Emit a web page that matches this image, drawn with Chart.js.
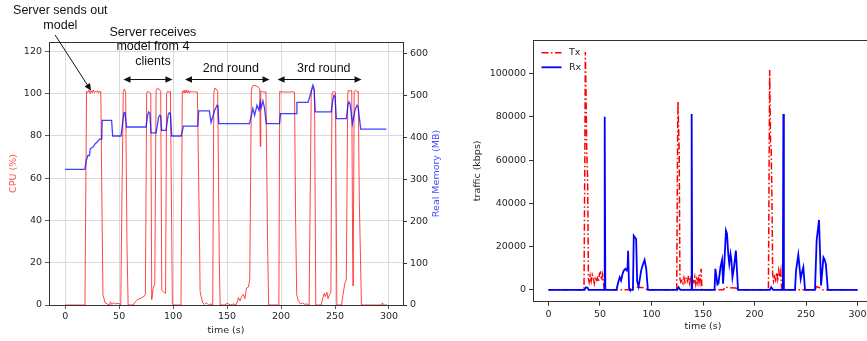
<!DOCTYPE html>
<html>
<head>
<meta charset="utf-8">
<script src="https://cdn.jsdelivr.net/npm/chart.js@4.4.1/dist/chart.umd.min.js"></script>
<style>
  html, body { margin: 0; padding: 0; background: #fff; overflow: hidden; }
  #cpuChart { position: absolute; left: 0; top: 0; }
  #netChart { position: absolute; left: 460px; top: 0; }
</style>
</head>
<body>
<canvas id="cpuChart" width="460" height="341"></canvas>
<canvas id="netChart" width="420" height="341"></canvas>
<script>
// tick labels
const timeTicks = [0, 50, 100, 150, 200, 250, 300];
const cpuTicks = [0, 20, 40, 60, 80, 100, 120];
const memTicks = [0, 100, 200, 300, 400, 500, 600];
const trafficTicks = [0, 20000, 40000, 60000, 80000, 100000];

// left panel: CPU (%)
const cpuTime = [0, 18.3, 19.8, 21, 22, 23, 24, 25, 26, 27, 28, 29, 30, 31, 32, 33, 34, 35, 36, 37, 39, 41, 42, 43, 45, 47, 49, 51.5,
  52.8, 53.8, 55, 56, 57.2, 58.3, 63, 65, 67, 69, 71, 73, 74.3, 75.5, 76.5, 78, 79.3, 80.2, 81.5, 83, 84.2, 85.5, 87, 88.5,
  89.5, 91.5, 93, 94, 95, 96.5, 97.5, 99.3, 100, 107.3, 108.5, 109.5, 110, 111, 112, 113, 114, 115, 116, 117, 118, 119, 120, 121, 122.5,
  124.5, 125, 126, 127.5, 129, 131, 133, 135, 136.7, 137.7, 138.7, 140, 141.3, 142.8, 143.6, 148, 150, 153, 156, 158, 159.5, 160.5,
  162, 163.5, 165, 166.5, 168, 169.8, 171, 172.5, 173.5, 175, 177, 179, 180.3, 180.7, 181.2, 182.5, 184, 186, 187.5, 188.5, 198,
  198.8, 200, 202, 204, 206, 208, 210, 212.5, 213.5, 214.5, 216, 218, 220, 222, 224, 226, 227.2, 228, 229.5, 231, 232.2, 237.3,
  238.5, 240, 241, 242.5, 243.5, 245, 246.2, 247.2, 248.5, 250.5, 251.7, 256, 257.5, 259, 260.5, 261.8, 262.5, 264, 265.5, 266.3,
  266.8, 267.3, 267.8, 269, 270.5, 271.5, 272.5, 274.5, 293, 294, 295, 298];
const cpuLoad = [0, 0, 101, 100.5, 101.5, 100, 101.2, 100.3, 101.6, 100.4, 101, 100.6, 101.3, 100.2, 101, 100.8, 50, 4.7, 3, 1, 0.5, 0, 1.5, 0.3, 1, 0.5, 0.8, 0.2,
  60, 101, 102, 100.5, 30, 0, 0, 1.5, 2.5, 3, 3.5, 4, 5, 100, 101, 100.5, 100, 2.5, 8, 10, 101, 102.5, 102, 101,
  7, 6, 5.5, 100, 101, 100.5, 101, 1, 0, 0, 101, 100.5, 101.5, 100.2, 101.7, 100.3, 101.4, 100.1, 101.2, 100.6, 101, 100.4, 100.9, 100.6, 100.6,
  30, 6.3, 4, 1, 0.3, 1, 0, 0.5, 0, 100, 102.5, 102, 101, 20, 0, 0, 0.8, 0, 0.5, 0, 1.5, 3.5,
  2, 4, 5, 3, 8, 8.5, 12, 101, 103.5, 103.8, 103.5, 103, 102, 75, 101, 101, 100.5, 100.8, 30, 0, 0,
  101, 100.6, 100.8, 100.6, 100.7, 100.6, 100.8, 100.6, 40, 5, 2, 0.5, 1, 0.3, 0.5, 0, 60, 101.5, 102.5, 101.5, 0, 0,
  3, 5.5, 4, 6, 3, 5, 6, 100, 101, 100.5, 0, 0, 5, 10, 12, 100, 101.5, 101, 101.5, 30,
  9, 9, 101, 101.5, 100.8, 101, 50, 0, 0, 1, 0, 0];

// left panel: real memory (MB)
const memTime = [0, 18.3, 19.5, 21, 22.5, 23.2, 25.7, 27.8, 29.7, 31.8, 33.8, 34.3, 43, 44, 51.7, 53.5, 54.6, 55.5, 56.8, 74.9,
  76.5, 77.4, 78.5, 79.5, 84.2, 86.5, 87.6, 88.5, 89.4, 93.4, 95.5, 96.5, 97.5, 98.7, 107.4, 109.6, 122.8, 123.7, 133.6, 135.2,
  138.5, 140.8, 141.5, 142.3, 170.8, 173.9, 175.5, 177.7, 179.5, 180.7, 181.5, 183.2, 184.7, 186.3, 198.6, 199.5, 214.1, 214.7,
  224.9, 227.5, 229.5, 230.5, 231.7, 246.6, 248, 249.1, 250, 251.2, 260.5, 262, 263, 264, 266.1, 268.5, 270.4, 271.5, 273.8, 297.6];
const memUsed = [323.7, 323.7, 345, 357, 357, 373, 377, 385, 389, 396, 396, 441, 441, 403.6, 403.6, 440, 459.6, 459, 425, 425,
  455, 461, 458, 411, 411, 448, 453, 451, 417, 417, 455, 459, 457, 403.6, 403.6, 427, 427, 463.6, 463.6, 435.7,
  465, 477, 475, 433, 433, 469, 453, 477, 465, 485, 470, 487.6, 470, 433, 433, 457, 457, 483.6,
  483.6, 505, 525, 518, 461, 461, 490, 501, 497, 445, 445, 478, 485, 480, 433, 465, 477, 472, 420, 420];

// right panel: traffic (kbps)
const txTime = [0, 34.5, 35.3, 35.8, 36.5, 37.2, 38, 38.8, 39.5, 40.5, 41.5, 42.5, 43.5, 44.5, 45.5, 46.5, 47.5, 48.5, 49.5, 50.5,
  51.5, 52.5, 53.5, 54.2, 79, 80, 88, 94, 95.5, 124.5, 125.2, 125.7, 126.3, 126.9, 127.6, 128.5, 129.5, 130.5, 131.5, 132.5,
  133.8, 135, 136, 137, 138, 139, 140, 141, 142, 143, 144, 145, 146, 147, 148.2, 149, 170, 171, 176, 182, 184, 213.5, 214.2,
  214.7, 215.3, 215.6, 216.2, 217, 217.6, 218.5, 219.5, 220.5, 221.5, 222.5, 223.5, 224.5, 225.5, 226.4, 259, 260, 263, 266, 300];
const txRate = [0, 0, 60000, 110000, 90000, 63000, 52000, 5000, 3500, 6500, 4000, 7000, 5500, 3000, 6000, 4500, 5500, 3500, 7500, 8100,
  4500, 7000, 3000, 0, 0, 1000, 1200, 800, 0, 0, 60000, 87000, 75000, 64000, 5000, 3500, 4300, 3000, 5500, 3500,
  5700, 4000, 6500, 3000, 5000, 2500, 4500, 3500, 6000, 2500, 5000, 3000, 7000, 3600, 9700, 0, 0, 1200, 1000, 800, 0, 0, 60000,
  101600, 80000, 67400, 65000, 40000, 7400, 4000, 6000, 4500, 8000, 5000, 9000, 6000, 8900, 0, 0, 1500, 1000, 0, 0];
const rxTime = [0, 35, 36.5, 38, 39, 54, 54.6, 55.2, 66, 67.5, 69.2, 70.5, 72, 73.1, 74.7, 76, 76.8, 77.3, 78.3, 79, 82, 82.8,
  84, 85.1, 86.1, 87.5, 90, 91.5, 93.3, 94.9, 96.5, 125, 126.2, 128, 138.5, 139, 139.5, 161.2, 162, 164, 165, 167, 168.5, 169.5,
  171, 172.3, 173.3, 174.5, 175.5, 176.7, 177.5, 178.6, 180, 181.9, 184, 215, 216.2, 218, 227.5, 228, 228.5, 239.3, 240.3,
  242.5, 244.8, 246, 247.4, 249, 258.7, 260.3, 262.6, 264.6, 266.9, 268, 269.2, 271.2, 300];
const rxRate = [0, 0, 1200, 1000, 0, 0, 80000, 0, 0, 3000, 5800, 4300, 7500, 8900, 9700, 9000, 10500, 18100, 500, 0, 0, 25000,
  24200, 23500, 4000, 1500, 9000, 11500, 13800, 9700, 0, 0, 1200, 0, 0, 81300, 0, 0, 9700, 2500, 3000, 10600, 13800, 2800,
  15000, 27400, 26000, 16600, 12000, 16600, 14000, 5800, 10000, 18100, 0, 0, 1200, 0, 0, 81300, 0, 0, 8900,
  16200, 5100, 8000, 10400, 0, 0, 22800, 32300, 2000, 15000, 14000, 12000, 0, 0];

const pts = (xs, ys) => xs.map((x, i) => ({ x: x, y: ys[i] }));
const fixTicks = list => scale => { scale.ticks = list.map(v => ({ value: v })); };
const tickFont = { family: 'DejaVu Sans', size: 9.5 };
const ink = '#262626';
const spine = '#333333';

Chart.defaults.font.family = 'DejaVu Sans';
Chart.defaults.color = ink;

function arrowHead(ctx, fx, fy, tx, ty) {
  const a = Math.atan2(ty - fy, tx - fx), len = 7, half = 3.2;
  ctx.beginPath();
  ctx.moveTo(tx, ty);
  ctx.lineTo(tx - len * Math.cos(a) + half * Math.sin(a), ty - len * Math.sin(a) - half * Math.cos(a));
  ctx.lineTo(tx - len * Math.cos(a) - half * Math.sin(a), ty - len * Math.sin(a) + half * Math.cos(a));
  ctx.closePath();
  ctx.fill();
}

// top spine, right axis label and the hand-made notes of the left panel
const cpuNotes = {
  id: 'cpuNotes',
  afterDraw(chart) {
    const { ctx, chartArea: area, scales: { x, y } } = chart;
    ctx.save();
    ctx.strokeStyle = spine;
    ctx.lineWidth = 1;
    ctx.beginPath();
    ctx.moveTo(area.left, Math.round(area.top) + 0.5);
    ctx.lineTo(area.right, Math.round(area.top) + 0.5);
    ctx.stroke();

    ctx.save();
    ctx.translate(area.right + 34, (area.top + area.bottom) / 2);
    ctx.rotate(-Math.PI / 2);
    ctx.fillStyle = 'rgba(40,40,255,0.85)';
    ctx.font = '9.5px "DejaVu Sans"';
    ctx.textAlign = 'center';
    ctx.textBaseline = 'middle';
    ctx.fillText('Real Memory (MB)', 0, 0);
    ctx.restore();

    ctx.fillStyle = '#111';
    ctx.strokeStyle = '#111';
    ctx.font = '12.5px "Liberation Sans"';
    ctx.textAlign = 'center';
    ctx.textBaseline = 'middle';
    const label = (t, v, s) => ctx.fillText(s, x.getPixelForValue(t), y.getPixelForValue(v));
    label(-4.5, 139, 'Server sends out');
    label(-4.5, 131.9, 'model');
    label(81.3, 128.9, 'Server receives');
    label(81.3, 122.1, 'model from 4');
    label(81.3, 115, 'clients');
    label(153.5, 111.9, '2nd round');
    label(239.6, 111.9, '3rd round');

    const span = (t0, t1) => {
      const yy = Math.round(y.getPixelForValue(106.8)) + 0.5;
      const x0 = x.getPixelForValue(t0), x1 = x.getPixelForValue(t1);
      ctx.beginPath();
      ctx.moveTo(x0 + 4, yy);
      ctx.lineTo(x1 - 4, yy);
      ctx.stroke();
      arrowHead(ctx, x1, yy, x0, yy);
      arrowHead(ctx, x0, yy, x1, yy);
    };
    span(54, 99.4);
    span(111, 189.3);
    span(196.8, 274.6);

    const fx = x.getPixelForValue(-9.3), fy = y.getPixelForValue(127.6);
    const tx = x.getPixelForValue(24), ty = y.getPixelForValue(101.3);
    ctx.beginPath();
    ctx.moveTo(fx, fy);
    ctx.lineTo(tx - (tx - fx) * 0.08, ty - (ty - fy) * 0.08);
    ctx.stroke();
    arrowHead(ctx, fx, fy, tx, ty);
    ctx.restore();
  }
};

// top spine and a legend inside the plot, top left, for the right panel
const netFrame = {
  id: 'netFrame',
  afterDraw(chart) {
    const { ctx, chartArea: area } = chart;
    ctx.save();
    ctx.strokeStyle = spine;
    ctx.lineWidth = 1;
    ctx.beginPath();
    ctx.moveTo(area.left, Math.round(area.top) + 0.5);
    ctx.lineTo(chart.width, Math.round(area.top) + 0.5);
    ctx.stroke();

    ctx.font = '9.5px "DejaVu Sans"';
    ctx.textBaseline = 'middle';
    ctx.textAlign = 'left';
    chart.data.datasets.forEach((ds, i) => {
      const yy = area.top + 12.7 + i * 14.6;
      ctx.strokeStyle = ds.borderColor;
      ctx.lineWidth = ds.borderWidth;
      ctx.setLineDash(ds.borderDash || []);
      ctx.beginPath();
      ctx.moveTo(area.left + 8.5, yy);
      ctx.lineTo(area.left + 28.5, yy);
      ctx.stroke();
      ctx.setLineDash([]);
      ctx.fillStyle = ink;
      ctx.fillText(ds.label, area.left + 36, yy);
    });
    ctx.restore();
  }
};

new Chart(document.getElementById('cpuChart'), {
  type: 'line',
  data: {
    datasets: [{
      label: 'CPU (%)',
      data: pts(cpuTime, cpuLoad),
      yAxisID: 'y',
      borderColor: 'rgba(255, 0, 0, 0.72)',
      borderWidth: 1,
      order: 1
    },
    {
      label: 'Real Memory (MB)',
      data: pts(memTime, memUsed),
      yAxisID: 'y1',
      borderColor: 'rgba(0, 0, 255, 0.75)',
      borderWidth: 1.3,
      order: 0
    }]
  },
  options: {
    responsive: false,
    animation: false,
    devicePixelRatio: 1,
    layout: { autoPadding: false, padding: { top: 42, left: 0, right: 0, bottom: 0 } },
    elements: { point: { radius: 0 }, line: { tension: 0 } },
    plugins: { legend: { display: false }, tooltip: { enabled: false } },
    scales: {
      x: {
        type: 'linear',
        min: -15,
        max: 313,
        afterBuildTicks: fixTicks(timeTicks),
        afterFit: s => { s.height = 36; },
        grid: { color: '#d2d2d2', lineWidth: 0.8, tickColor: spine, tickLength: 4 },
        border: { color: spine, width: 1 },
        ticks: { font: tickFont, color: ink, padding: 2, maxRotation: 0, autoSkip: false, callback: v => String(v) },
        title: { display: true, text: 'time (s)', color: ink, font: tickFont, padding: { top: 0, bottom: 5 } }
      },
      y: {
        position: 'left',
        min: 0,
        max: 124.3,
        afterBuildTicks: fixTicks(cpuTicks),
        afterFit: s => { s.width = 49; },
        grid: { color: '#d2d2d2', lineWidth: 0.8, tickColor: spine, tickLength: 4 },
        border: { color: spine, width: 1 },
        ticks: { font: tickFont, color: ink, padding: 3, autoSkip: false, callback: v => String(v) },
        title: { display: true, text: 'CPU (%)', color: 'rgba(255, 40, 40, 0.85)', font: tickFont, padding: { top: 8, bottom: 0 } }
      },
      y1: {
        position: 'right',
        min: 0,
        max: 628,
        afterBuildTicks: fixTicks(memTicks),
        afterFit: s => { s.width = 57; },
        grid: { drawOnChartArea: false, tickColor: spine, tickLength: 4 },
        border: { color: spine, width: 1 },
        ticks: { font: tickFont, color: ink, padding: 3, autoSkip: false, callback: v => String(v) }
      }
    }
  },
  plugins: [cpuNotes]
});

new Chart(document.getElementById('netChart'), {
  type: 'line',
  data: {
    datasets: [{
      label: 'Tx',
      data: pts(txTime, txRate),
      borderColor: '#ff0000',
      backgroundColor: '#ff0000',
      borderWidth: 1.5,
      borderDash: [7, 2.5, 1.5, 2.5],
      order: 1
    },
    {
      label: 'Rx',
      data: pts(rxTime, rxRate),
      borderColor: '#0000ff',
      backgroundColor: '#0000ff',
      borderWidth: 1.8,
      order: 0
    }]
  },
  options: {
    responsive: false,
    animation: false,
    devicePixelRatio: 1,
    layout: { autoPadding: false, padding: { top: 40, left: 0, right: 7, bottom: 0 } },
    elements: { point: { radius: 0 }, line: { tension: 0 } },
    plugins: { legend: { display: false }, tooltip: { enabled: false } },
    scales: {
      x: {
        type: 'linear',
        min: -15,
        max: 315,
        afterBuildTicks: fixTicks(timeTicks),
        afterFit: s => { s.height = 39.3; },
        grid: { drawOnChartArea: false, tickColor: spine, tickLength: 4 },
        border: { color: spine, width: 1 },
        ticks: { font: tickFont, color: ink, padding: 3, maxRotation: 0, autoSkip: false, callback: v => String(v) },
        title: { display: true, text: 'time (s)', color: ink, font: tickFont, padding: { top: 0, bottom: 8.6 } }
      },
      y: {
        min: -5500,
        max: 115500,
        afterBuildTicks: fixTicks(trafficTicks),
        afterFit: s => { s.width = 73; },
        grid: { drawOnChartArea: false, tickColor: spine, tickLength: 4 },
        border: { color: spine, width: 1 },
        ticks: { font: tickFont, color: ink, padding: 3, autoSkip: false, callback: v => String(v) },
        title: { display: true, text: 'traffic (kbps)', color: ink, font: tickFont, padding: { top: 11.8, bottom: 0 } }
      }
    }
  },
  plugins: [netFrame]
});
</script>
</body>
</html>
